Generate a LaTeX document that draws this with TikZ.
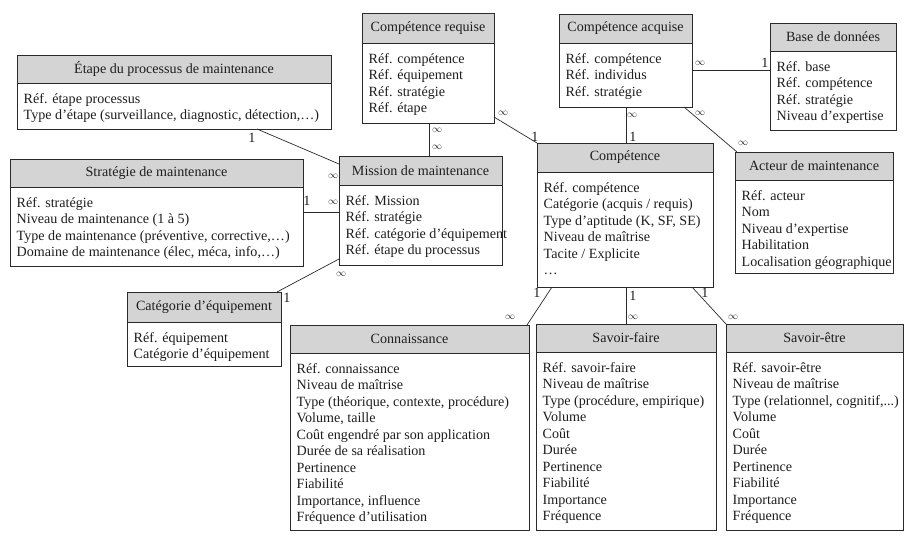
\documentclass[tikz,border=0pt]{standalone}
\usepackage{fontspec}
\setmainfont{Liberation Serif}
\usetikzlibrary{calc}
\definecolor{hdrfill}{HTML}{D4D4D4}
\definecolor{linec}{HTML}{2A2A2A}
\definecolor{txt}{HTML}{1E1E1E}
\tikzset{
  hdr/.style={draw=linec, fill=hdrfill, line width=0.8pt, inner sep=0pt, outer sep=0pt, anchor=north west, font=\fontsize{14.1}{16.5}\selectfont, text=txt},
  bodybox/.style={draw=linec, fill=white, line width=0.8pt, inner sep=0pt, outer sep=0pt, anchor=north west},
  rows/.style={anchor=north west, align=left, inner sep=0pt, font=\fontsize{14.1}{16.5}\selectfont, text=txt},
  conn/.style={draw=linec, line width=0.7pt},
  one/.style={font=\fontsize{14.1}{16}\selectfont, inner sep=0pt, text=txt},
  inf/.style={font=\fontsize{10}{10}\selectfont, inner sep=0pt, text=txt}
}
% #1 name, #2 left, #3 top, #4 right, #5 header bottom, #6 bottom, #7 title, #8 rows
\newcommand\entitybox[8]{%
  \node[hdr, minimum width={#4-#2}, minimum height={#5-#3}] (#1h) at (#2,#3) {#7};
  \node[bodybox, minimum width={#4-#2}, minimum height={#6-#5}] (#1) at (#2,#5) {};
  \node[rows] (#1t) at ($(#1.north west)+(6.5,8.6)$) {\strut#8};
}
\begin{document}
\begin{tikzpicture}[x=1pt,y=-1pt]
\useasboundingbox (0,0) rectangle (912,541);

\entitybox{etape}{17}{55}{331}{83}{129}{Étape du processus de maintenance}{Réf. étape processus\\Type d’étape (surveillance, diagnostic, détection,…)}
\entitybox{strat}{10}{159}{303}{187}{266}{Stratégie de maintenance}{Réf. stratégie\\Niveau de maintenance (1 à 5)\\Type de maintenance (préventive, corrective,…)\\Domaine de maintenance (élec, méca, info,…)}
\entitybox{mission}{339}{156}{502}{185}{265}{Mission de maintenance}{Réf. Mission\\Réf. stratégie\\Réf. catégorie d’équipement\\Réf. étape du processus}
\entitybox{categ}{127}{292}{281}{322}{366}{Catégorie d’équipement}{Réf. équipement\\Catégorie d’équipement}
\entitybox{requise}{362}{13}{494}{43}{123}{Compétence requise}{Réf. compétence\\Réf. équipement\\Réf. stratégie\\Réf. étape}
\entitybox{acquise}{559}{14}{692}{43}{107}{Compétence acquise}{Réf. compétence\\Réf. individus\\Réf. stratégie}
\entitybox{base}{770}{23}{896}{51}{130}{Base de données}{Réf. base\\Réf. compétence\\Réf. stratégie\\Niveau d’expertise}
\entitybox{acteur}{735}{152}{893}{180}{273}{Acteur de maintenance}{Réf. acteur\\Nom\\Niveau d’expertise\\Habilitation\\Localisation géographique}
\entitybox{comp}{537}{143}{713}{172}{287}{Compétence}{Réf. compétence\\Catégorie (acquis / requis)\\Type d’aptitude (K, SF, SE)\\Niveau de maîtrise\\Tacite / Explicite\\…}
\entitybox{conn}{290}{325}{529}{353}{530}{Connaissance}{Réf. connaissance\\Niveau de maîtrise\\Type (théorique, contexte, procédure)\\Volume, taille\\Coût engendré par son application\\Durée de sa réalisation\\Pertinence\\Fiabilité\\Importance, influence\\Fréquence d’utilisation}
\entitybox{sf}{536}{324}{716}{352}{530}{Savoir-faire}{Réf. savoir-faire\\Niveau de maîtrise\\Type (procédure, empirique)\\Volume\\Coût\\Durée\\Pertinence\\Fiabilité\\Importance\\Fréquence}
\entitybox{se}{726}{324}{903}{352}{530}{Savoir-être}{Réf. savoir-être\\Niveau de maîtrise\\Type (relationnel, cognitif,...)\\Volume\\Coût\\Durée\\Pertinence\\Fiabilité\\Importance\\Fréquence}

% connectors
\draw[conn] ($(etape.south west)+(240,0)$) -- ($(missionh.north west)+(0,8)$);
\draw[conn] ($(strat.north east)+(0,25)$) -- ($(mission.north west)+(0,27)$);
\draw[conn] ($(mission.south west)+(0,-6)$) -- ($(categh.north east)+(-4,0)$);
\draw[conn] ($(requise.south west)+(67,0)$) -- ($(missionh.north west)+(90,0)$);
\draw[conn] ($(requise.south east)+(0,-6)$) -- (comph.north west);
\draw[conn] ($(acquise.south west)+(67,0)$) -- ($(comph.north west)+(89,0)$);
\draw[conn] ($(acquise.north east)+(0,27)$) -- ($(base.north west)+(0,19)$);
\draw[conn] ($(acquise.south east)+(-8,0)$) -- ($(acteurh.north west)+(2,0)$);
\draw[conn] ($(comp.south west)+(15,0)$) -- ($(connh.north east)+(-2,0)$);
\draw[conn] ($(comp.south west)+(89,0)$) -- ($(sfh.north west)+(90,0)$);
\draw[conn] ($(comp.south east)+(-21,0)$) -- (seh.north west);

% cardinalities
\node[one] (l1) at (252,138) {1};
\node[inf] (i1) at (333,176) {$\infty$};
\node[one] (l2) at (307,201) {1};
\node[inf] (i2) at (333,202) {$\infty$};
\node[inf] (i3) at (341,274) {$\infty$};
\node[one] (l3) at (287,298) {1};
\node[inf] (i4) at (437,130) {$\infty$};
\node[inf] (i5) at (437,147) {$\infty$};
\node[inf] (i6) at (503,113) {$\infty$};
\node[one] (l4) at (535,137) {1};
\node[inf] (i7) at (632,115) {$\infty$};
\node[one] (l5) at (633,137) {1};
\node[inf] (i8) at (700,63) {$\infty$};
\node[one] (l6) at (765,63) {1};
\node[inf] (i9) at (700,113) {$\infty$};
\node[inf] (i10) at (743,143) {$\infty$};
\node[one] (l7) at (537,293) {1};
\node[inf] (i11) at (510,317) {$\infty$};
\node[one] (l8) at (633,296) {1};
\node[inf] (i12) at (633,317) {$\infty$};
\node[one] (l9) at (705,293) {1};
\node[inf] (i13) at (733,317) {$\infty$};
\end{tikzpicture}
\end{document}
